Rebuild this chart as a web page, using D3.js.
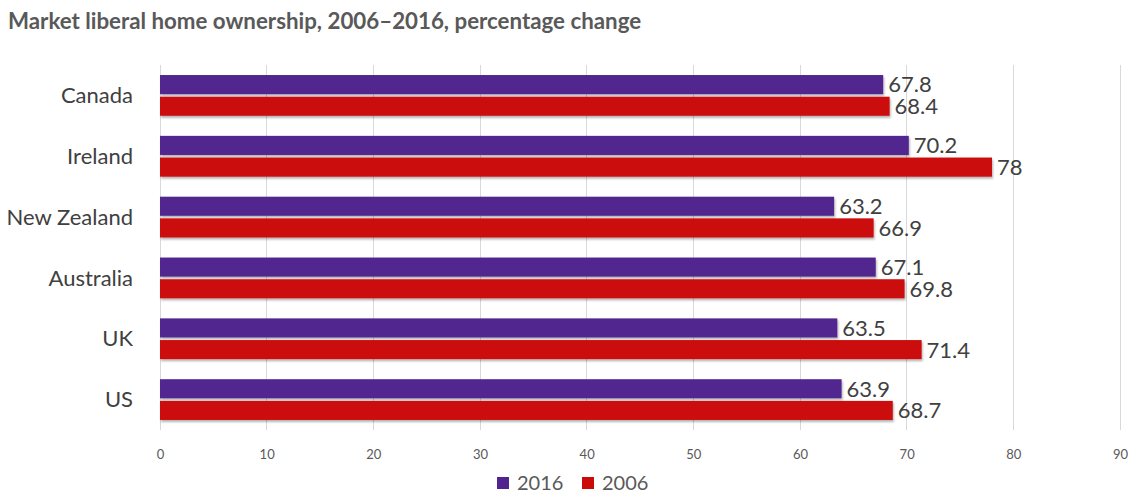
<!DOCTYPE html>
<html><head><meta charset="utf-8">
<script src="https://cdn.jsdelivr.net/npm/d3@7"></script>
<style>body{margin:0;background:#fff}</style>
</head><body>
<svg id="c" width="1128" height="501"></svg>
<script>
const categories = ["Canada","Ireland","New Zealand","Australia","UK","US"];
const values2016 = [67.8,70.2,63.2,67.1,63.5,63.9];
const values2006 = [68.4,78,66.9,69.8,71.4,68.7];
const seriesNames = ["2016","2006"];
const tickValues = [0,10,20,30,40,50,60,70,80,90];
const colors = {"2016":"#51258F","2006":"#CC0A0A"};
const font = "Lato, 'Open Sans', sans-serif";

const svg = d3.select("#c");
const defs = svg.append("defs");
const f = defs.append("filter").attr("id","sh").attr("x","-5%").attr("y","-20%").attr("width","110%").attr("height","160%");
f.append("feDropShadow").attr("dx",1).attr("dy",2).attr("stdDeviation",1.2).attr("flood-color","#000").attr("flood-opacity",0.3);

const x = d3.scaleLinear().domain([0,90]).range([160,1120]);
const y = d3.scaleBand().domain(categories).range([65,430]).paddingInner(0.33).paddingOuter(0.165);
const ys = d3.scaleBand().domain(seriesNames).range([0,y.bandwidth()]).paddingInner(0.12);

svg.append("text").attr("x",8).attr("y",29).attr("font-family",font).attr("font-weight","bold")
  .attr("font-size",22.3).attr("fill","#595959").text("Market liberal home ownership, 2006\u20132016, percentage change");

// gridlines
svg.append("g").selectAll("line").data(tickValues).join("line")
  .attr("x1",d=>x(d)).attr("x2",d=>x(d)).attr("y1",65).attr("y2",430)
  .attr("stroke","#d9d9d9").attr("stroke-width",1).attr("shape-rendering","crispEdges");

// x axis labels
const ax = svg.append("g").attr("transform","translate(0,438)").call(d3.axisBottom(x).tickValues(tickValues).tickSize(0).tickPadding(12));
ax.select(".domain").remove();
ax.selectAll("text").attr("font-family",font).attr("font-size",13).attr("fill","#595959");

// y labels
svg.append("g").selectAll("text").data(categories).join("text")
  .attr("x",133).attr("y",d=>y(d)+y.bandwidth()/2).attr("dy","0.35em").attr("text-anchor","end")
  .attr("font-family",font).attr("font-size",22).attr("fill","#404040").text(d=>d);

const rows = [];
categories.forEach((c,i)=>{
  rows.push({c,s:"2016",v:values2016[i]});
  rows.push({c,s:"2006",v:values2006[i]});
});

svg.append("g").selectAll("rect").data(rows).join("rect")
  .attr("x",x(0)).attr("y",d=>y(d.c)+ys(d.s)).attr("width",d=>x(d.v)-x(0)).attr("height",ys.bandwidth())
  .attr("fill",d=>colors[d.s]).attr("filter","url(#sh)");

svg.append("g").selectAll("text").data(rows).join("text")
  .attr("x",d=>x(d.v)+5).attr("y",d=>y(d.c)+ys(d.s)+ys.bandwidth()/2).attr("dy","0.36em")
  .attr("font-family",font).attr("font-size",22).attr("fill","#404040").text(d=>d.v);

// legend
const lg = svg.append("g").attr("transform","translate(497,477)");
const items = lg.selectAll("g").data(seriesNames).join("g").attr("transform",(d,i)=>`translate(${i*85},0)`);
items.append("rect").attr("width",12).attr("height",12).attr("fill",d=>colors[d]);
items.append("text").attr("x",20).attr("y",6).attr("dy","0.36em").attr("font-family",font).attr("font-size",20).attr("fill","#595959").text(d=>d);
</script>
</body></html>
